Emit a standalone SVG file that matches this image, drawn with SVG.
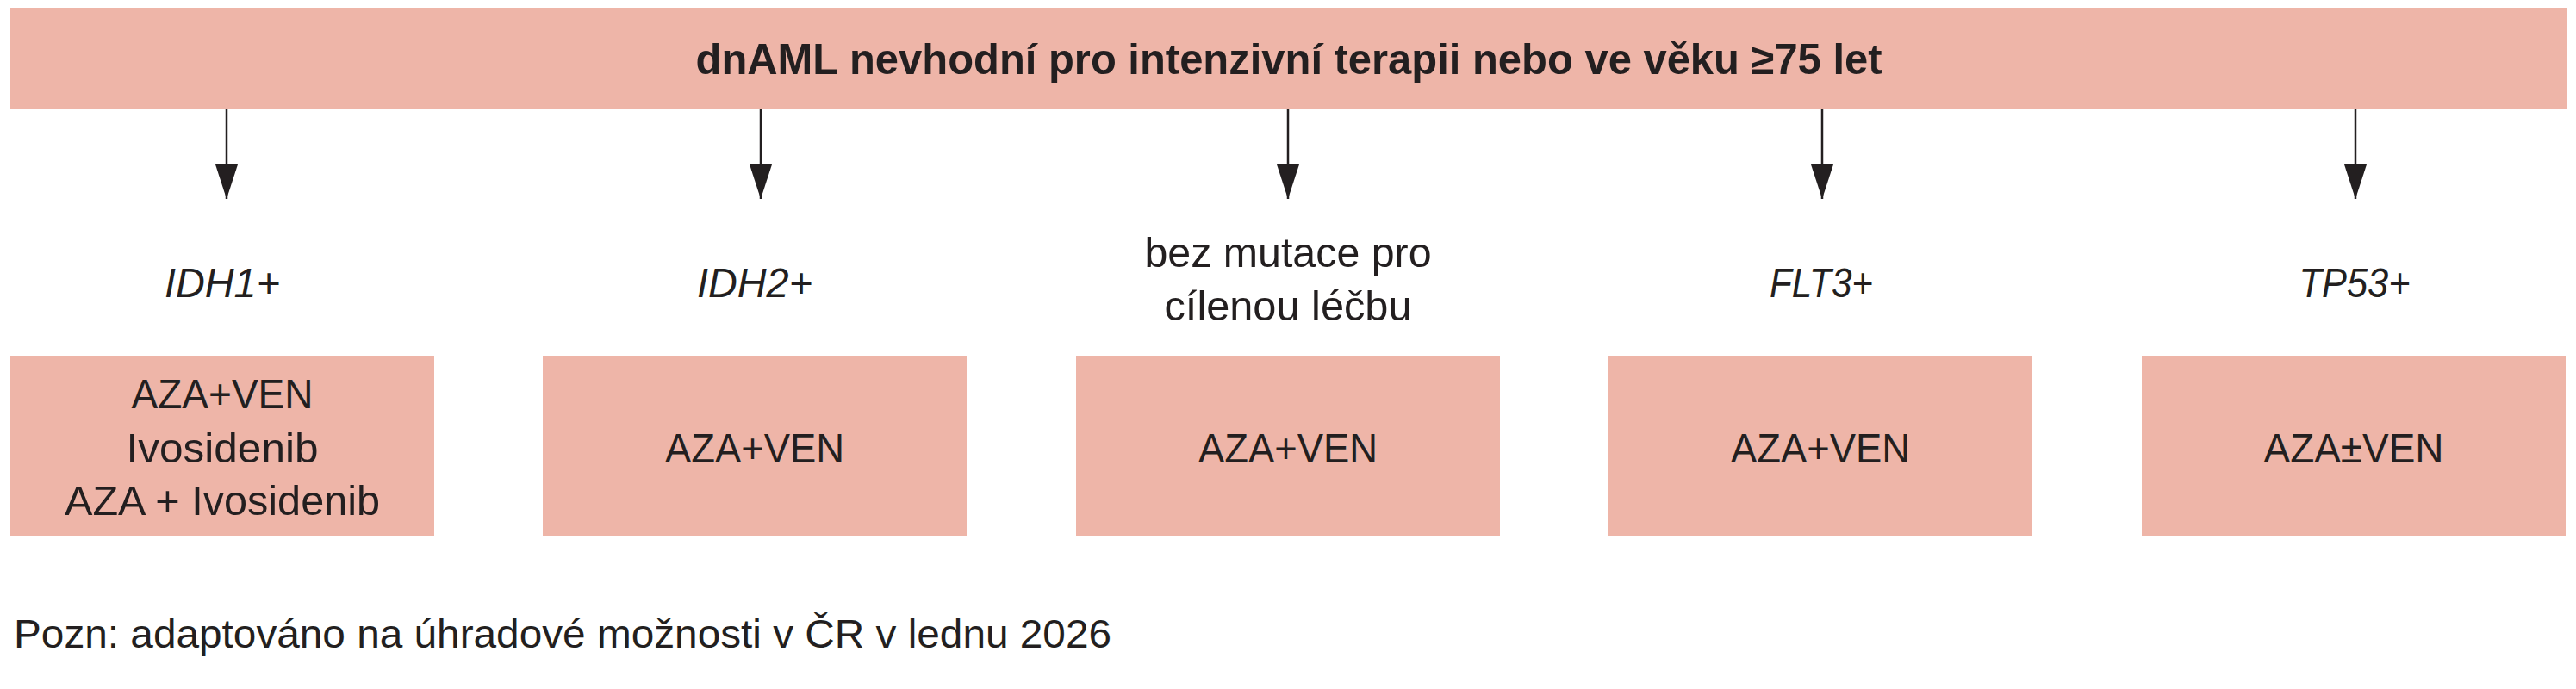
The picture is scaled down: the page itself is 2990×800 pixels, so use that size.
<svg xmlns="http://www.w3.org/2000/svg" width="2990" height="800" viewBox="0 0 2990 800">
  <style>
    .box { fill: #EEB5A8; }
    .t { font-family: "Liberation Sans", Arial, sans-serif; font-size: 48px; fill: #231F20; text-anchor: middle; }
    .title { font-weight: bold; font-size: 50px; }
    .it { font-style: italic; }
    .foot { text-anchor: start; font-size: 46px; }
    .conn { stroke: #231F20; stroke-width: 2.5; fill: none; marker-end: url(#ah); }
  </style>
  <defs>
    <marker id="ah" markerUnits="userSpaceOnUse" viewBox="0 -13 40 26" refX="40" refY="0" markerWidth="40" markerHeight="26" orient="auto">
      <path d="M0,-13 L40,0 L0,13 z" fill="#231F20"/>
    </marker>
  </defs>
  <rect width="2990" height="800" fill="#FFFFFF"/>

  <g id="root">
    <rect class="box" x="12" y="9" width="2968" height="117"/>
    <text class="t title" x="1496" y="86" textLength="1377" lengthAdjust="spacingAndGlyphs">dnAML nevhodní pro intenzivní terapii nebo ve věku ≥75 let</text>
  </g>

  <g id="connectors">
    <line class="conn" x1="263" y1="126" x2="263" y2="231"/>
    <line class="conn" x1="883" y1="126" x2="883" y2="231"/>
    <line class="conn" x1="1495" y1="126" x2="1495" y2="231"/>
    <line class="conn" x1="2115" y1="126" x2="2115" y2="231"/>
    <line class="conn" x1="2734" y1="126" x2="2734" y2="231"/>
  </g>

  <g id="label-idh1">
    <text class="t it" x="258" y="345" textLength="134" lengthAdjust="spacingAndGlyphs">IDH1+</text>
  </g>
  <g id="label-idh2">
    <text class="t it" x="876" y="345" textLength="134" lengthAdjust="spacingAndGlyphs">IDH2+</text>
  </g>
  <g id="label-none">
    <text class="t" x="1495" y="310" textLength="333" lengthAdjust="spacingAndGlyphs">bez mutace pro</text>
    <text class="t" x="1495" y="372" textLength="287" lengthAdjust="spacingAndGlyphs">cílenou léčbu</text>
  </g>
  <g id="label-flt3">
    <text class="t it" x="2114" y="345" textLength="120" lengthAdjust="spacingAndGlyphs">FLT3+</text>
  </g>
  <g id="label-tp53">
    <text class="t it" x="2733" y="345" textLength="129" lengthAdjust="spacingAndGlyphs">TP53+</text>
  </g>

  <g id="box-idh1">
    <rect class="box" x="12" y="413" width="492" height="209"/>
    <text class="t" x="258" y="474" textLength="211" lengthAdjust="spacingAndGlyphs">AZA+VEN</text>
    <text class="t" x="258" y="537" textLength="223" lengthAdjust="spacingAndGlyphs">Ivosidenib</text>
    <text class="t" x="258" y="598" textLength="366" lengthAdjust="spacingAndGlyphs">AZA + Ivosidenib</text>
  </g>
  <g id="box-idh2">
    <rect class="box" x="630" y="413" width="492" height="209"/>
    <text class="t" x="876" y="537" textLength="208" lengthAdjust="spacingAndGlyphs">AZA+VEN</text>
  </g>
  <g id="box-none">
    <rect class="box" x="1249" y="413" width="492" height="209"/>
    <text class="t" x="1495" y="537" textLength="208" lengthAdjust="spacingAndGlyphs">AZA+VEN</text>
  </g>
  <g id="box-flt3">
    <rect class="box" x="1867" y="413" width="492" height="209"/>
    <text class="t" x="2113" y="537" textLength="208" lengthAdjust="spacingAndGlyphs">AZA+VEN</text>
  </g>
  <g id="box-tp53">
    <rect class="box" x="2486" y="413" width="492" height="209"/>
    <text class="t" x="2732" y="537" textLength="209" lengthAdjust="spacingAndGlyphs">AZA±VEN</text>
  </g>

  <g id="footnote">
    <text class="t foot" x="16" y="752" textLength="1274" lengthAdjust="spacingAndGlyphs">Pozn: adaptováno na úhradové možnosti v ČR v lednu 2026</text>
  </g>
</svg>
